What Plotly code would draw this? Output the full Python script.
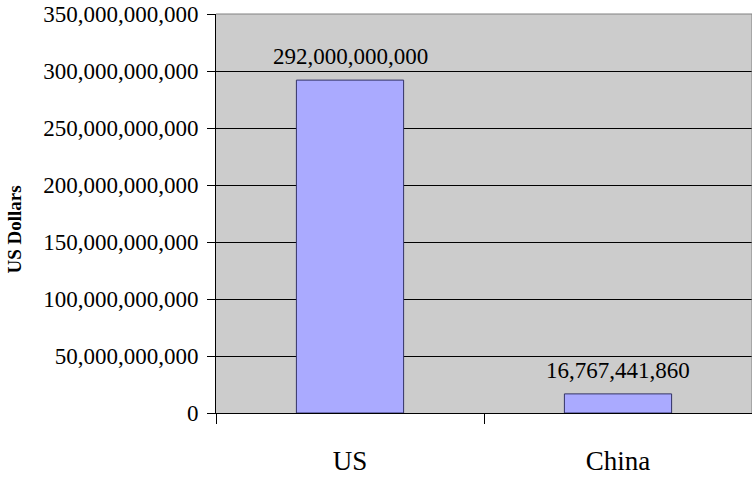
import plotly.graph_objects as go

categories = ["US", "China"]
values = [292000000000, 16767441860]
labels = ["292,000,000,000", "16,767,441,860"]

FONT = "Liberation Serif"
FS = 23

fig = go.Figure()
fig.add_trace(go.Bar(
    x=categories, y=values, width=0.4,
    marker=dict(color="#AAAAFF", line=dict(color="#333366", width=1)),
    hoverinfo="skip",
))
for c, v, t in zip(categories, values, labels):
    fig.add_annotation(x=c, y=v, text=t, showarrow=False, yanchor="bottom",
                       yshift=9, font=dict(family=FONT, size=FS, color="black"))

fig.add_annotation(text="<b>US Dollars</b>", xref="paper", yref="paper",
                   x=0, y=0.5, xanchor="center", yanchor="middle",
                   xshift=-202, yshift=-16, textangle=-90, showarrow=False,
                   font=dict(family=FONT, size=19, color="black"))

fig.update_layout(
    width=752, height=477,
    margin=dict(l=216, r=0, t=14, b=64),
    paper_bgcolor="white", plot_bgcolor="#CCCCCC",
    showlegend=False,
    font=dict(family=FONT, size=FS, color="black"),
)
fig.update_xaxes(
    tickson="boundaries", ticks="outside", ticklen=10, tickcolor="black",
    showline=True, linecolor="black", linewidth=1,
    ticklabelstandoff=24, showgrid=False,
    tickfont=dict(family=FONT, size=27, color="black"),
)
fig.update_yaxes(
    range=[0, 350e9], dtick=50e9, tickformat=",d",
    ticks="outside", ticklen=8, tickcolor="black",
    showline=True, linecolor="black", linewidth=1,
    showgrid=True, gridcolor="black", gridwidth=1,
    zeroline=False,
    tickfont=dict(family=FONT, size=FS, color="black"),
    ticklabelstandoff=4,
)
fig.add_shape(type="line", xref="paper", yref="paper", x0=0, x1=1, y0=1, y1=1,
              line=dict(color="#808080", width=1))
fig.add_shape(type="line", xref="paper", yref="paper", x0=1, x1=1, y0=0, y1=1,
              line=dict(color="#808080", width=1))

fig.write_html("out.html")
